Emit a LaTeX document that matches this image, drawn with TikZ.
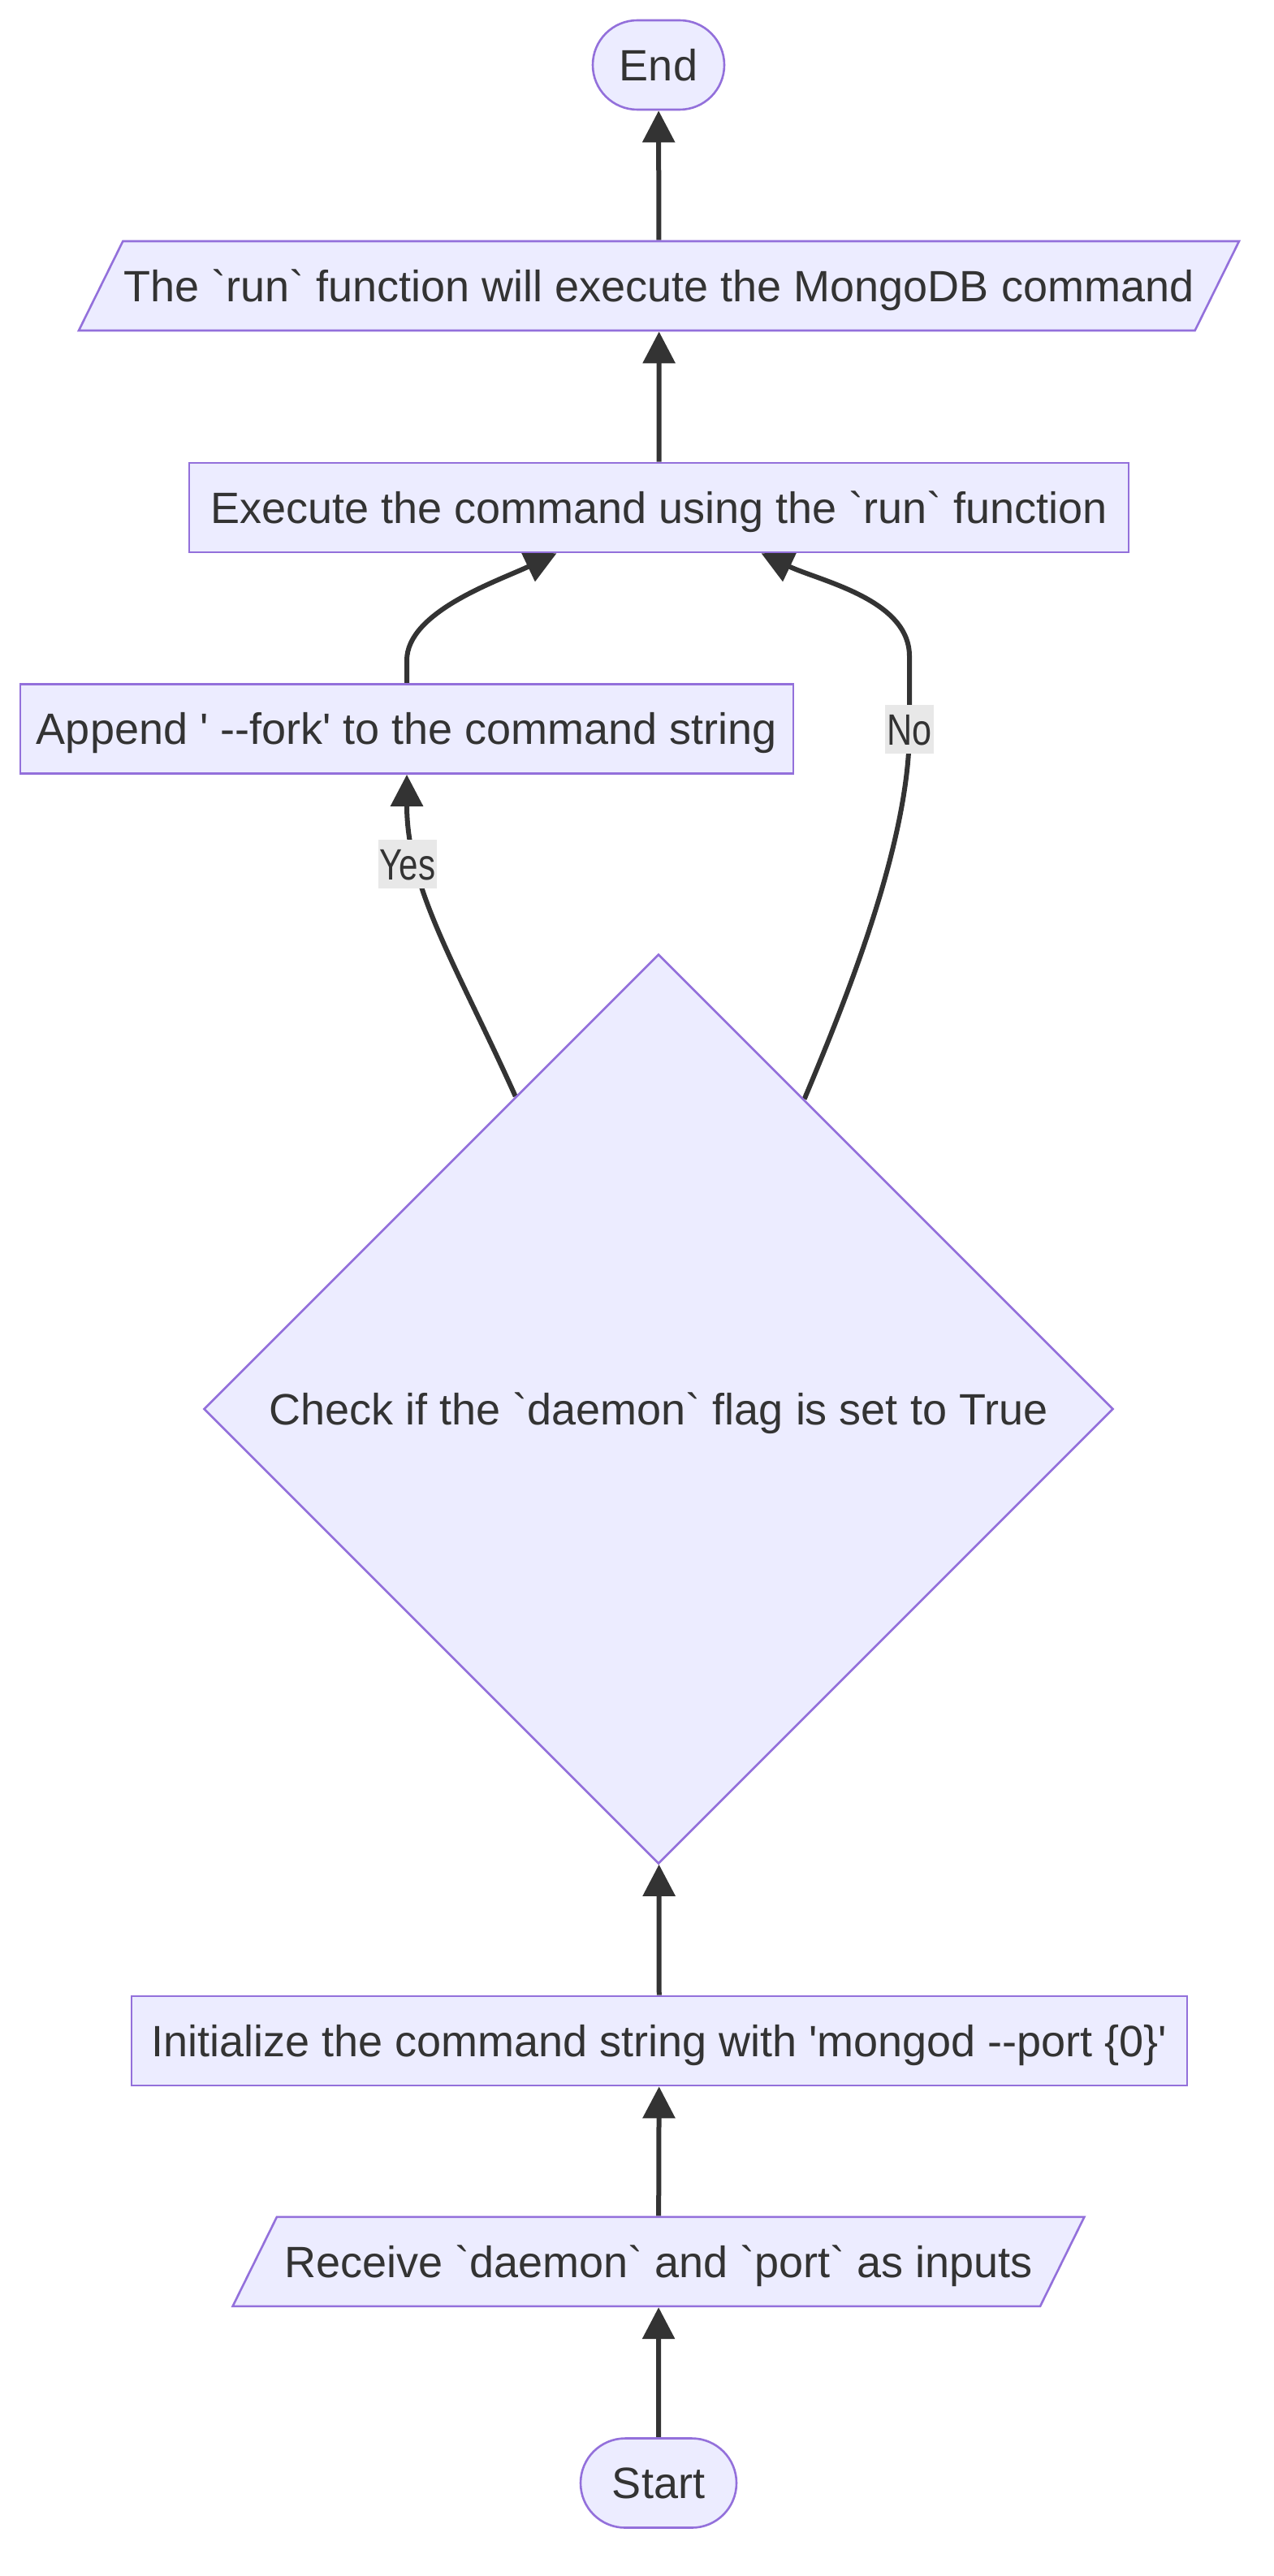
\documentclass[tikz,border=0pt]{standalone}
\usepackage{fontspec}
\usepackage{graphicx}
\newfontfamily\flowfont{Liberation Sans}
\usetikzlibrary{arrows.meta, shapes.geometric, calc}
\pgfdeclarelayer{edges}
\pgfsetlayers{edges,main}
\definecolor{nodefill}{HTML}{ECECFF}
\definecolor{nodeline}{HTML}{9370DB}
\definecolor{ink}{HTML}{333333}
\definecolor{lblfill}{HTML}{E8E8E8}

\begin{document}
\begin{tikzpicture}[x=1pt,y=1pt,yscale=-1,xscale=1,
  every node/.style={font=\flowfont\fontsize{27}{32}\selectfont, text=ink, text height=19.3pt, text depth=0pt},
  box/.style={draw=nodeline, fill=nodefill, line width=1.3pt, inner sep=0pt, minimum height=55pt},
  proc/.style={box, rectangle},
  term/.style={box, rectangle, rounded corners=27.5pt},
  io/.style={box, trapezium, inner ysep=17.85pt, trapezium left angle=63.7, trapezium right angle=116.3, trapezium stretches body},
  decision/.style={box, diamond, aspect=1, minimum width=560pt, minimum height=560pt},
  flowline/.style={draw=ink, line width=3pt, -{Triangle[length=19.5pt,width=19.5pt]}},
  lbl/.style={fill=lblfill, inner xsep=1pt, inner ysep=0pt, minimum height=30pt}]
\useasboundingbox (0,0) rectangle (784,1586);

% Text Node
\node[term, minimum width=81pt] (end) at (405.5,40) {End};
% Text Node
\node[io, minimum width=714.5pt] (runcmd) at (405.75,176) {The `run` function will execute the MongoDB command};
% Text Node
\node[proc, minimum width=578.5pt] (exec) at (405.75,312.5) {Execute the command using the `run` function};
% Text Node
\node[proc, minimum width=476pt] (fork) at (250.5,448.75) {Append ' --fork' to the command string};
% Text Node
\node[decision] (check) at (405.5,867.5) {Check if the `daemon` flag is set to True};
% Text Node
\node[proc, minimum width=650pt] (init) at (405.9,1256.5) {Initialize the command string with 'mongod --port \{0\}'};
% Text Node
\node[io, minimum width=524.4pt] (recv) at (405.5,1392.4) {Receive `daemon` and `port` as inputs};
% Text Node
\node[term, minimum width=96pt] (start) at (405.5,1528.75) {Start};

\coordinate (yesout) at ($(check.north)!0.314!(check.west)$);
\coordinate (noout) at ($(check.north)!0.32!(check.east)$);
\coordinate (yesin) at ($(exec.south)+(-63,0)$);
\coordinate (noin) at ($(exec.south)+(63,0)$);
\coordinate (nobend) at (560,449);

\begin{pgfonlayer}{edges}
\fill[white] (0,0) rectangle (784,1586);
%Straight Lines
\draw[flowline] (start) -- (recv);
\draw[flowline] (recv) -- (init);
\draw[flowline] (init) -- (check);
\draw[flowline] (exec) -- (runcmd);
\draw[flowline] (runcmd) -- (end);
%Curve Lines
\draw[flowline] (yesout) .. controls +(-36,-80) and +(0,70) .. (fork.south);
\draw[flowline] (noout) .. controls +(26,-62) and +(0,70) .. (nobend) -- ++(0,-45) .. controls +(0,-35) and +(36,17) .. (noin);
\draw[flowline] (fork.north) -- ++(0,-14) .. controls +(0,-30) and +(-36,17) .. (yesin);
\end{pgfonlayer}

% Text Node
\node[lbl] (yes) at (251,532) {\scalebox{0.78}[1]{Yes}};
% Text Node
\node[lbl] (no) at (nobend) {\scalebox{0.8}[1]{No}};

\end{tikzpicture}
\end{document}
